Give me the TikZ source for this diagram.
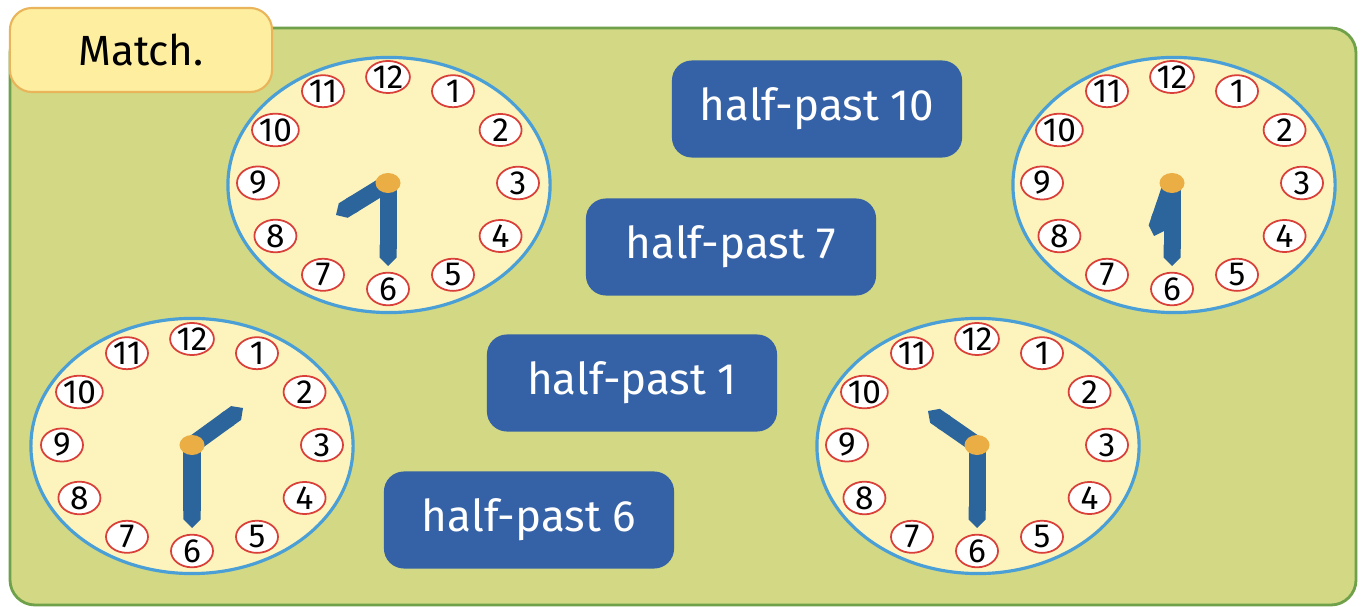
\documentclass[tikz,border=0pt]{standalone}
\usepackage{fontspec}
\setmainfont{Fira Sans}
\usetikzlibrary{shapes.geometric, arrows.meta, calc}

\definecolor{panelgreen}{HTML}{D2D884}
\definecolor{paneledge}{HTML}{6FA04A}
\definecolor{tagyellow}{HTML}{FDEEA0}
\definecolor{tagedge}{HTML}{E9B45A}
\definecolor{faceyellow}{HTML}{FCF4BC}
\definecolor{faceedge}{HTML}{4A9FD6}
\definecolor{numred}{HTML}{D9403A}
\definecolor{handblue}{HTML}{2B659B}
\definecolor{hubgold}{HTML}{EBAE45}
\definecolor{labelblue}{HTML}{3562A6}

\begin{document}
\begin{tikzpicture}[
  x=0.01cm, y=-0.01cm,
  panel/.style={draw=paneledge, line width=0.8pt, fill=panelgreen, rounded corners=0.25cm},
  matchtag/.style={draw=tagedge, line width=0.6pt, fill=tagyellow, rounded corners=0.22cm,
    minimum width=2.62cm, minimum height=0.84cm, font=\fontsize{12}{12}\selectfont},
  face/.style={ellipse, draw=faceedge, line width=0.9pt, fill=faceyellow,
    minimum width=3.22cm, minimum height=2.55cm},
  num/.style={ellipse, draw=numred, line width=0.5pt, fill=white, inner sep=0pt,
    minimum width=0.42cm, minimum height=0.32cm, font=\fontsize{9.5}{9.5}\selectfont},
  hub/.style={ellipse, fill=hubgold, inner sep=0pt, minimum width=0.25cm, minimum height=0.2cm},
  hand/.style={draw=handblue, line width=0.17cm, -{Triangle Cap[]}},
  tag/.style={fill=labelblue, rounded corners=0.2cm, text=white,
    minimum width=2.9cm, minimum height=0.97cm, font=\fontsize{12.5}{12.5}\selectfont}
]
\useasboundingbox (0,0) rectangle (1364,607);
% board
\draw[panel] (10,28) rectangle (1356,605);
\node[matchtag] (match) at (141,50) {Match.};

% clock: half-past 7
\node[face] (face1) at (389,185) {};
\coordinate (c1) at (388,183);
\foreach \n in {1,...,12}
  \node[num] (c1n\n) at ($(c1)+({130*sin(30*\n)},{-106*cos(30*\n)})$) {\n};
\coordinate (c1m) at (388,266);
\coordinate (c1h) at (336,215);
\draw[hand] (c1) -- (c1h);
\draw[hand] (c1) -- (c1m);
\node[hub] (hub1) at (c1) {};

% clock: half-past 6
\node[face] (face2) at (1174,185) {};
\coordinate (c2) at (1172,183);
\foreach \n in {1,...,12}
  \node[num] (c2n\n) at ($(c2)+({130*sin(30*\n)},{-106*cos(30*\n)})$) {\n};
\coordinate (c2m) at (1172,266);
\coordinate (c2h) at (1154,236);
\draw[hand] (c2) -- (c2h);
\draw[hand] (c2) -- (c2m);
\node[hub] (hub2) at (c2) {};

% clock: half-past 1
\node[face] (face3) at (192,446) {};
\coordinate (c3) at (192,445);
\foreach \n in {1,...,12}
  \node[num] (c3n\n) at ($(c3)+({130*sin(30*\n)},{-106*cos(30*\n)})$) {\n};
\coordinate (c3m) at (192,528);
\coordinate (c3h) at (243,408);
\draw[hand] (c3) -- (c3h);
\draw[hand] (c3) -- (c3m);
\node[hub] (hub3) at (c3) {};

% clock: half-past 10
\node[face] (face4) at (978,446) {};
\coordinate (c4) at (977,445);
\foreach \n in {1,...,12}
  \node[num] (c4n\n) at ($(c4)+({130*sin(30*\n)},{-106*cos(30*\n)})$) {\n};
\coordinate (c4m) at (977,528);
\coordinate (c4h) at (928,411);
\draw[hand] (c4) -- (c4h);
\draw[hand] (c4) -- (c4m);
\node[hub] (hub4) at (c4) {};

% times
\node[tag] (hp10) at (817,109) {half-past 10};
\node[tag] (hp7) at (731,247) {half-past 7};
\node[tag] (hp1) at (632,383) {half-past 1};
\node[tag] (hp6) at (529,520) {half-past 6};
\end{tikzpicture}
\end{document}
